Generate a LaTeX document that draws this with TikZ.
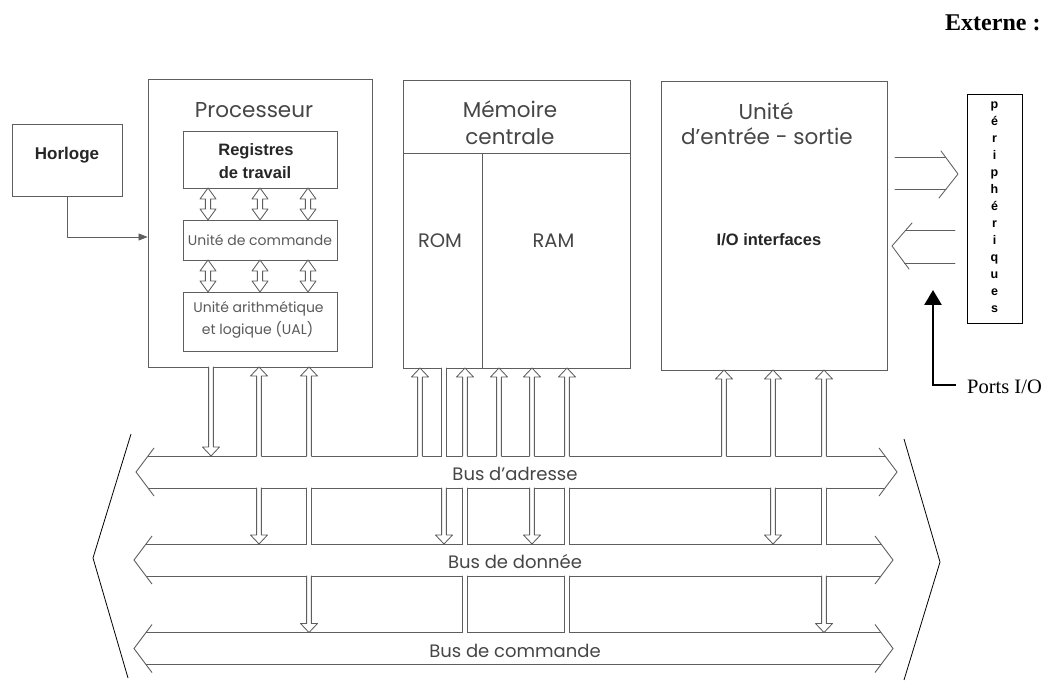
\documentclass[tikz,border=0pt]{standalone}
\usepackage{fontspec}
\setmainfont{Poppins}
\newfontfamily\arialf{Liberation Sans}
\newfontfamily\timesf{Liberation Serif}
\usetikzlibrary{arrows.meta}
\definecolor{lg}{HTML}{5E5E5E}
\definecolor{tg}{HTML}{464646}
\definecolor{tl}{HTML}{5A5A5A}
\def\sw{2.4}\def\hw{8.5}\def\hl{9}
% vertical hollow arrow segment: x, ytop, ybottom, head at top (0/1), head at bottom (0/1)
\newcommand\fatseg[5]{%
 \begingroup
  \ifnum#4=1
    \edef\fsTf{({#1-\sw},{#2+\hl}) -- ({#1-\hw},{#2+\hl}) -- (#1,#2) -- ({#1+\hw},{#2+\hl}) -- ({#1+\sw},{#2+\hl})}%
    \let\fsTd\fsTf
    \edef\fsP{({#1-\sw},{#2+\hl})}%
  \else
    \edef\fsTf{({#1-\sw},{#2-1.3}) -- ({#1+\sw},{#2-1.3})}%
    \edef\fsTd{({#1-\sw},#2) ({#1+\sw},#2)}%
    \edef\fsP{({#1-\sw},#2)}%
  \fi
  \ifnum#5=1
    \edef\fsBf{({#1+\sw},{#3-\hl}) -- ({#1+\hw},{#3-\hl}) -- (#1,#3) -- ({#1-\hw},{#3-\hl}) -- ({#1-\sw},{#3-\hl})}%
    \let\fsBd\fsBf
  \else
    \edef\fsBf{({#1+\sw},{#3+1.3}) -- ({#1-\sw},{#3+1.3})}%
    \edef\fsBd{({#1+\sw},#3) ({#1-\sw},#3)}%
  \fi
  \edef\fscmd{\noexpand\fill[white] \fsTf -- \fsBf -- cycle; \noexpand\draw[conn] \fsTd -- \fsBd -- \fsP;}%
  \fscmd
 \endgroup
}
% bus: name, y centre, left tip x, right tip x, label
\newcommand\busdraw[5]{%
  \fill[white] (#3,#2) -- ({#3+12},{#2-16}) -- ({#4-12},{#2-16}) -- (#4,#2) -- ({#4-12},{#2+16}) -- ({#3+12},{#2+16}) -- cycle;
  \draw[busline] ({#3+12},{#2-16}) -- ({#4-12},{#2-16}) ({#3+12},{#2+16}) -- ({#4-12},{#2+16});
  \draw[busline] ({#3+18},{#2-24}) -- (#3,#2) -- ({#3+18},{#2+24}) ({#4-18},{#2-24}) -- (#4,#2) -- ({#4-18},{#2+24});
  \node[buslabel, anchor=base] (#1) at (515,{#2+8.5}) {#5};
}
\tikzset{
  box/.style={draw=lg, line width=0.9pt, fill=white, inner sep=0pt},
  conn/.style={draw=lg, line width=0.85pt, line cap=round, line join=round},
  busline/.style={draw=lg, line width=0.9pt},
  big/.style={draw=black, line width=0.8pt},
  title/.style={text=tg, inner sep=0pt, font=\fontsize{21.5}{24}\selectfont},
  sub/.style={text=tl, inner sep=0pt, font=\fontsize{14}{17}\selectfont},
  buslabel/.style={text=tg, inner sep=0pt, font=\fontsize{18}{22}\selectfont},
  ariallbl/.style={text=black!85, inner sep=0pt, font=\arialf\bfseries\fontsize{16.5}{19}\selectfont},
}
\begin{document}
\begin{tikzpicture}[x=1pt,y=-1pt]
\useasboundingbox (0,0) rectangle (1049,684);
\fill[white] (0,0) rectangle (1049,684);

% big chevrons
\draw[big] (131,434) -- (93,558) -- (128,678);
\draw[big] (904,439) -- (940,562) -- (904,680);

% boxes
\node[box, minimum width=110pt, minimum height=72pt] (horl) at (67,160) {};
\node[box, minimum width=224pt, minimum height=288pt] (proc) at (260,223) {};
\node[box, minimum width=154pt, minimum height=57pt] (reg) at (260,159.5) {};
\node[box, minimum width=154pt, minimum height=40pt] (cmd) at (260,240) {};
\node[box, minimum width=154pt, minimum height=59pt] (ual) at (260,321.5) {};
\node[box, minimum width=227pt, minimum height=288pt] (mem) at (516.5,224) {};
\node[box, minimum width=226pt, minimum height=289pt] (io) at (774,225.5) {};
\node[box, draw=black, line width=0.8pt, minimum width=55pt, minimum height=229pt] (peri) at (994.5,208.5) {};
\coordinate (divL) at (403,153);
\coordinate (divR) at (630,153);
\coordinate (romT) at (482,153);
\draw[busline] (divL) -- (divR);
\draw[busline] (romT) -- (romT |- mem.south);

% texts
\node[ariallbl, anchor=base, font=\arialf\bfseries\fontsize{17}{20}\selectfont] (horlt) at (67,160) {Horloge};
\node[title, anchor=base] (proct) at (254,118) {Processeur};
\node[ariallbl, anchor=base] (regt1) at (256,156) {Registres};
\node[ariallbl, anchor=base] (regt2) at (255,179) {de travail};
\node[sub, anchor=base] (cmdt) at (260,246) {Unité de commande};
\node[sub, anchor=base] (ualt1) at (258.5,313) {Unité arithmétique};
\node[sub, anchor=base] (ualt2) at (257.5,335) {et logique (UAL)};
\node[title, anchor=base] (memt1) at (510,118) {Mémoire};
\node[title, anchor=base] (memt2) at (510,145) {centrale};
\node[title, anchor=base, font=\fontsize{19.5}{22}\selectfont] (rom) at (440,248) {ROM};
\node[title, anchor=base, font=\fontsize{19.5}{22}\selectfont] (ram) at (553.5,248) {RAM};
\node[title, anchor=base] (iot1) at (766,120) {Unité};
\node[title, anchor=base] (iot2) at (767,145) {d’entrée - sortie};
\node[ariallbl, anchor=base] (iot3) at (769,246) {I/O interfaces};
\node[inner sep=0pt, align=center, font=\arialf\bfseries\fontsize{12.5}{17}\selectfont] (perit) at (994.5,207)
  {p\\é\\r\\i\\p\\h\\é\\r\\i\\q\\u\\e\\s};
\node[inner sep=0pt, anchor=base west, font=\timesf\bfseries\fontsize{24}{27}\selectfont] (ext) at (945,31) {Externe :};
\node[inner sep=0pt, anchor=base west, font=\timesf\fontsize{20.5}{24}\selectfont] (ports) at (967,393) {Ports I/O};

% clock connector
\draw[conn, -{Triangle[length=9pt,width=7pt]}] (horl.south) |- (proc.west |- 0,237);

% processor internal arrows
\begingroup
\def\hl{11}\def\hw{8}\def\sw{2.6}
\foreach \xx in {208,260,308}{
  \fatseg{\xx}{188}{220}{1}{1}
  \fatseg{\xx}{260}{292}{1}{1}
}
\endgroup

% outputs / inputs to peripherals
\coordinate (o1s) at (895,157); \coordinate (o1e) at (945.5,157);
\coordinate (o2s) at (895,189); \coordinate (o2e) at (946,189);
\coordinate (i1s) at (955,230); \coordinate (i1e) at (905.9,230);
\coordinate (i2s) at (955,263); \coordinate (i2e) at (904.6,263);
\draw[conn] (o1s) -- (o1e) (o2s) -- (o2e);
\draw[conn] (941,151) -- (958,174) -- (939,198);
\draw[conn] (i1s) -- (i1e) (i2s) -- (i2e);
\draw[conn] (912,223) -- (892,246) -- (909,269);

% ports arrow
\coordinate (portsend) at (956,385);
\coordinate (portstip) at (933,290);
\draw[line width=2.7pt, -{Triangle[length=15pt,width=17pt]}] (portsend) -| (portstip);

% buses
\busdraw{adr}{472}{136}{897}{Bus d’adresse}
\busdraw{don}{560}{134}{893}{Bus de donnée}
\busdraw{com}{648.5}{134}{893}{Bus de commande}

% processor connectors
\fatseg{211}{367}{456}{0}{1}
\fatseg{259}{367}{456}{1}{0}\fatseg{259}{488}{544}{0}{1}
\fatseg{309}{367}{456}{1}{0}\fatseg{309}{488}{544}{0}{0}\fatseg{309}{576}{632.5}{0}{1}
% memory connectors
\fatseg{420}{368}{456}{1}{0}
\fatseg{444}{368}{456}{0}{0}\fatseg{444}{488}{544}{0}{1}
\fatseg{465}{368}{456}{1}{0}\fatseg{465}{488}{544}{0}{0}\fatseg{465}{576}{632.5}{0}{0}
\fatseg{499}{368}{456}{1}{0}
\fatseg{532}{368}{456}{1}{0}\fatseg{532}{488}{544}{0}{1}
\fatseg{567}{368}{456}{1}{0}\fatseg{567}{488}{544}{0}{0}\fatseg{567}{576}{632.5}{0}{0}
% I/O connectors
\fatseg{724}{370}{456}{1}{0}
\fatseg{773}{370}{456}{1}{0}\fatseg{773}{488}{544}{0}{1}
\fatseg{824}{370}{456}{1}{0}\fatseg{824}{488}{544}{0}{0}\fatseg{824}{576}{632.5}{0}{1}
\end{tikzpicture}
\end{document}
